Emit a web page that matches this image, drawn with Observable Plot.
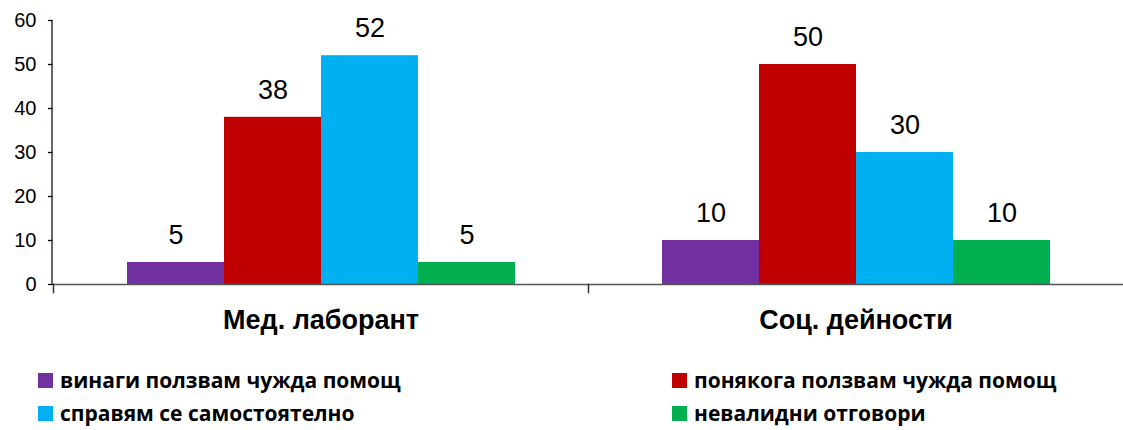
<!DOCTYPE html>
<html>
<head>
<meta charset="utf-8">
<script src="https://cdn.jsdelivr.net/npm/d3@7"></script>
<script src="https://cdn.jsdelivr.net/npm/@observablehq/plot@0.6"></script>
<style>
  body { margin: 0; background: #fff; font-family: "Liberation Sans", Arial, sans-serif; }
  #chart { position: relative; }
  #legend { position: relative; height: 90px; font-family: "Open Sans", "Noto Sans", sans-serif; font-weight: 700; font-size: 21px; color: #000; }
  .item { position: absolute; display: flex; align-items: center; white-space: nowrap; }
  .sw { width: 15px; height: 15px; margin-right: 7px; }
</style>
</head>
<body>
<div id="chart"></div>
<div id="legend"></div>
<script>
const groups = ["Мед. лаборант", "Соц. дейности"];
const series = ["винаги ползвам чужда помощ", "понякога ползвам чужда помощ", "справям се самостоятелно", "невалидни отговори"];
const colors = ["#7030A0", "#C00000", "#00B0F0", "#00B050"];
const values = [
  [5, 38, 52, 5],
  [10, 50, 30, 10]
];
const yTicks = [0, 10, 20, 30, 40, 50, 60];

const data = [];
groups.forEach((g, i) => series.forEach((s, j) => data.push({group: g, series: s, value: values[i][j]})));

const marginLeft = 52;
const chart = Plot.plot({
  width: 1123,
  height: 345,
  marginLeft,
  marginRight: 0,
  marginTop: 20,
  marginBottom: 61,
  style: {fontFamily: "'Liberation Sans', Arial, sans-serif", background: "#fff", fontSize: "20px", color: "#000"},
  fx: {domain: groups, padding: 0, label: null, axis: null},
  x: {domain: series, axis: null, paddingInner: 0, paddingOuter: 0.74},
  y: {domain: [0, 60], label: null, axis: null},
  color: {domain: series, range: colors},
  marks: [
    Plot.axisY({ticks: yTicks, tickSize: 5, tickPadding: 12, fontSize: 20, stroke: "#000", strokeWidth: 1.3, fill: "#000", label: null, facetAnchor: "left"}),
    Plot.barY(data, {fx: "group", x: "series", y: "value", fill: "series"}),
    Plot.text(data, {fx: "group", x: "series", y: "value", text: d => String(d.value), dy: -27, fontSize: 27, fill: "#000"}),
    Plot.ruleY([0], {stroke: "#555", strokeWidth: 1.5}),
    Plot.frame({anchor: "left", insetTop: 264, insetBottom: -8, stroke: "#333", strokeWidth: 1.5}),
    Plot.axisFx({anchor: "bottom", tickSize: 0, tickPadding: 25, fontSize: 27, fontWeight: "bold", fill: "#000", label: null})
  ]
});

document.getElementById("chart").appendChild(chart);

// vertical value-axis line, positioned with the chart's own y scale
const ys = chart.scale("y");
const y0 = ys.apply(yTicks[0]);
const y1 = ys.apply(yTicks[yTicks.length - 1]);
const svgNS = "http://www.w3.org/2000/svg";
const axisLine = document.createElementNS(svgNS, "line");
axisLine.setAttribute("x1", marginLeft);
axisLine.setAttribute("x2", marginLeft);
axisLine.setAttribute("y1", y1);
axisLine.setAttribute("y2", y0);
axisLine.setAttribute("stroke", "#333");
axisLine.setAttribute("stroke-width", "1.5");
chart.appendChild(axisLine);

const legend = document.getElementById("legend");
const pos = [[38, 35], [672, 35], [38, 68], [672, 68]];
series.forEach((s, i) => {
  const d = document.createElement("div");
  d.className = "item";
  d.style.left = pos[i][0] + "px";
  d.style.top = (pos[i][1] - 14) + "px";
  d.innerHTML = `<span class="sw" style="background:${colors[i]}"></span><span>${s}</span>`;
  legend.appendChild(d);
});
</script>
</body>
</html>
